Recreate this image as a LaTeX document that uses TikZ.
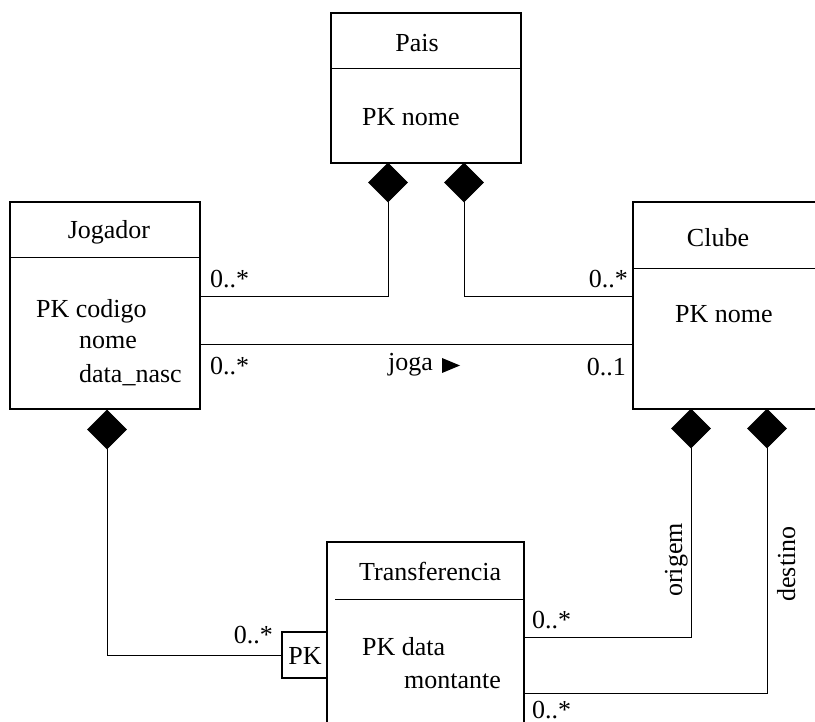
\documentclass[tikz,border=0pt]{standalone}
\usepackage{fontspec}
\setmainfont{Liberation Serif}
\usetikzlibrary{shapes.geometric}
\begin{document}
\begin{tikzpicture}[x=1pt,y=-1pt,
  box/.style={draw, line width=1.1pt, rectangle, inner sep=0pt, outer sep=0pt},
  agg/.style={draw, fill=black, diamond, inner sep=0pt, outer sep=0pt, minimum width=39pt, minimum height=39pt, line width=0.5pt},
  conn/.style={line width=1pt},
  divider/.style={line width=1pt},
  txt/.style={font=\fontsize{26}{31}\selectfont, inner sep=0pt, anchor=base west},
  txtc/.style={font=\fontsize{26}{31}\selectfont, inner sep=0pt, anchor=base},
  txtr/.style={font=\fontsize{26}{31}\selectfont, inner sep=0pt, anchor=base east}]
\clip (0,0) rectangle (815,722);
\fill[white] (0,0) rectangle (815,722);

% boxes
\node[box, minimum width=190pt, minimum height=150pt] (pais) at (426,88) {};
\node[box, minimum width=190pt, minimum height=207pt] (jog) at (105,305.5) {};
\node[box, minimum width=207pt, minimum height=207pt] (clu) at (736.5,305.5) {};
\node[box, minimum width=197pt, minimum height=218pt] (tra) at (425.5,651) {};
\node[box, minimum width=45pt, minimum height=46pt, font=\fontsize{26}{31}\selectfont] (pk) at (304.5,655) {};
\node[txtc] (pktxt) at (305,664) {PK};

% dividers
\draw[divider] (pais.west |- 0,69) -- (pais.east |- 0,69);
\draw[divider] (jog.west |- 0,258) -- (jog.east |- 0,258);
\draw[divider] (clu.west |- 0,269) -- (clu.east |- 0,269);
\draw[divider] (335,599) -- (tra.east |- 0,599);

% texts
\node[txtc] (t1) at (417,52) {Pais};
\node[txt] (t2) at (362,126) {PK nome};
\node[txtc] (t3) at (109,239) {Jogador};
\node[txt] (t4) at (36,318) {PK codigo};
\node[txt] (t5) at (79,349) {nome};
\node[txt] (t6) at (79,383) {data\_nasc};
\node[txtc] (t7) at (718,247) {Clube};
\node[txt] (t8) at (675,323) {PK nome};
\node[txt] (t9) at (359,580) {Transferencia};
\node[txt] (t10) at (362,655) {PK data};
\node[txt] (t11) at (404,688) {montante};

% diamonds
\node[agg] (dpl) at (388,182.5) {};
\node[agg] (dpr) at (464,182.5) {};
\node[agg] (djo) at (107,429.5) {};
\node[agg] (dco) at (691,428.5) {};
\node[agg] (dcd) at (767,428.5) {};

% connection coordinates
\coordinate (j1) at (jog.east |- 0,297);
\coordinate (j2) at (jog.east |- 0,345);
\coordinate (c1) at (clu.west |- 0,297);
\coordinate (c2) at (clu.west |- 0,345);
\coordinate (r1) at (tra.east |- 0,637);
\coordinate (r2) at (tra.east |- 0,693);

% connectors
\draw[conn] (dpl.south) |- (j1);
\draw[conn] (dpr.south) |- (c1);
\draw[conn] (j2) -- (c2);
\draw[conn] (djo.south) |- (pk.west);
\draw[conn] (dco.south) |- (r1);
\draw[conn] (dcd.south) |- (r2);

% multiplicities
\node[txt] (m1) at (210,288) {0..*};
\node[txt] (m2) at (210,375) {0..*};
\node[txtr] (m3) at (628,288) {0..*};
\node[txtr] (m4) at (626,376) {0..1};
\node[txtr] (m5) at (273,643) {0..*};
\node[txt] (m6) at (532,628) {0..*};
\node[txt] (m7) at (532,718) {0..*};

% role names
\node[txt] (joga) at (388,371) {joga};
\fill (442,358) -- (460,365.5) -- (442,373) -- cycle;
\node[txtc, rotate=90] (org) at (682,560) {origem};
\node[txtc, rotate=90] (dst) at (795,564) {destino};
\end{tikzpicture}
\end{document}
